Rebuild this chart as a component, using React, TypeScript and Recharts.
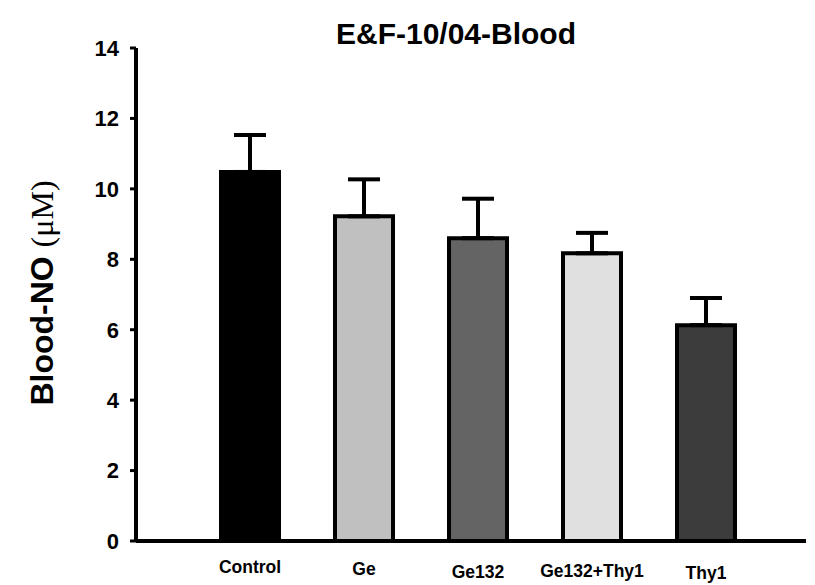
import React from 'react'
import { BarChart, Bar, XAxis, YAxis, Cell, ErrorBar } from 'recharts'

// groups, means and upper SD
const groups = ['Control', 'Ge', 'Ge132', 'Ge132+Thy1', 'Thy1']
const means = [10.48, 9.22, 8.6, 8.17, 6.13]
const sd = [1.05, 1.05, 1.12, 0.58, 0.77]
const fills = ['#000000', '#c0c0c0', '#646464', '#e0e0e0', '#3c3c3c']
const yTicks = [0, 2, 4, 6, 8, 10, 12, 14]

const data = groups.map((name, i) => ({
  name,
  value: means[i],
  // only the upper half of the error bar is shown
  err: [0, sd[i]],
}))

// the category labels sit on slightly uneven baselines
const labelDy = [0, 2, 5, 4, 6]

const CategoryTick = ({ x, y, payload, index }: any) => (
  <text
    x={x}
    y={y}
    dy={24 + (labelDy[index] || 0)}
    textAnchor="middle"
    fontFamily="Liberation Sans, Arial, sans-serif"
    fontWeight="bold"
    fontSize={17.5}
    fill="#000"
  >
    {payload.value}
  </text>
)

const YLabel = () => {
  const cx = 42
  const cy = 293
  return (
    <text
      x={cx}
      y={cy}
      transform={`rotate(-90, ${cx}, ${cy})`}
      textAnchor="middle"
      dominantBaseline="central"
      fill="#000"
      fontSize={32}
    >
      <tspan fontFamily="Liberation Sans, Arial, sans-serif" fontWeight="bold">
        Blood-NO{' '}
      </tspan>
      <tspan fontFamily="Liberation Serif, Times New Roman, serif">(μM)</tspan>
    </text>
  )
}

export default function App() {
  return (
    <div style={{ position: 'absolute', left: 0, top: 0, background: '#fff' }}>
      <BarChart
        width={815}
        height={585}
        data={data}
        margin={{ top: 48, right: 9, bottom: 4, left: 76 }}
      >
        <text
          x={456}
          y={44}
          textAnchor="middle"
          fontFamily="Liberation Sans, Arial, sans-serif"
          fontWeight="bold"
          fontSize={30}
          fill="#000"
        >
          E&amp;F-10/04-Blood
        </text>
        <XAxis
          dataKey="name"
          height={40}
          padding={{ left: 57, right: 43 }}
          axisLine={{ stroke: '#000', strokeWidth: 4 }}
          tickLine={false}
          tick={<CategoryTick />}
          interval={0}
        />
        <YAxis
          width={60}
          domain={[0, 14]}
          ticks={yTicks}
          interval={0}
          axisLine={{ stroke: '#000', strokeWidth: 4 }}
          tickLine={{ stroke: '#000', strokeWidth: 3 }}
          tickSize={6}
          tickMargin={11}
          tick={{
            fill: '#000',
            fontSize: 22,
            fontWeight: 'bold',
            fontFamily: 'Liberation Sans, Arial, sans-serif',
          }}
          label={<YLabel />}
        />
        <Bar
          dataKey="value"
          barSize={58}
          stroke="#000"
          strokeWidth={4}
          isAnimationActive={false}
        >
          {data.map((d, i) => (
            <Cell key={d.name} fill={fills[i]} />
          ))}
          <ErrorBar
            dataKey="err"
            direction="y"
            width={16}
            stroke="#000"
            strokeWidth={4}
            isAnimationActive={false}
          />
        </Bar>
      </BarChart>
    </div>
  )
}
